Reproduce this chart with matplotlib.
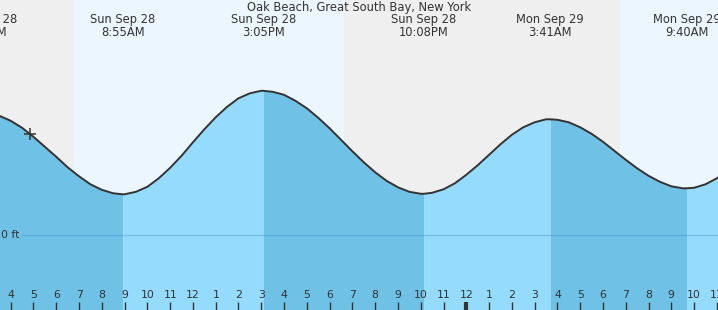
# tide chart - Oak Beach, Great South Bay
import matplotlib.pyplot as plt
from matplotlib import transforms

plt.rcParams['font.family'] = 'DejaVu Sans'

# hours from Sun Sep 28 00:00, water level in ft
times = [3.0, 3.5, 4.0, 4.5, 5.0, 5.5, 6.0, 6.5, 7.0, 7.5, 8.0, 8.5, 8.917,
         9.0, 9.5, 10.0, 10.5, 11.0, 11.5, 12.0, 12.5, 13.0, 13.5, 14.0, 14.5, 15.0, 15.083,
         15.5, 16.0, 16.5, 17.0, 17.5, 18.0, 18.5, 19.0, 19.5, 20.0, 20.5, 21.0, 21.5, 22.0, 22.133,
         22.5, 23.0, 23.5, 24.0, 24.5, 25.0, 25.5, 26.0, 26.5, 27.0, 27.5, 27.683,
         28.0, 28.5, 29.0, 29.5, 30.0, 30.5, 31.0, 31.5, 32.0, 32.5, 33.0, 33.5, 33.667,
         34.0, 34.5, 35.0, 35.5]
heights = [2.44, 2.39, 2.29, 2.15, 1.97, 1.77, 1.57, 1.36, 1.18, 1.02, 0.91, 0.84, 0.82,
           0.82, 0.87, 0.97, 1.14, 1.35, 1.59, 1.86, 2.12, 2.36, 2.57, 2.74, 2.84, 2.89, 2.89,
           2.87, 2.81, 2.69, 2.54, 2.35, 2.14, 1.91, 1.68, 1.46, 1.26, 1.09, 0.96, 0.87, 0.83, 0.83,
           0.85, 0.92, 1.04, 1.21, 1.40, 1.61, 1.82, 2.01, 2.16, 2.26, 2.32, 2.32,
           2.31, 2.26, 2.16, 2.03, 1.87, 1.69, 1.51, 1.34, 1.19, 1.07, 0.98, 0.94, 0.94,
           0.95, 1.02, 1.14, 1.30]

# high / low events
event_times = [2.85, 8.917, 15.083, 22.133, 27.683, 33.667]
event_days = ['Sun Sep 28', 'Sun Sep 28', 'Sun Sep 28', 'Sun Sep 28', 'Mon Sep 29', 'Mon Sep 29']
event_clock = ['2:51AM', '8:55AM', '3:05PM', '10:08PM', '3:41AM', '9:40AM']

# daylight
sunrise = [6.78, 30.75]
sunset = [18.63]

now_time = 4.85
now_height = 2.03

hours = list(range(4, 36))

x0, x1 = 3.53, 35.05
y0, y1 = -1.494, 4.706

fig = plt.figure(figsize=(7.18, 3.10), dpi=100)
ax = fig.add_axes([0, 0, 1, 1])
ax.set_xlim(x0, x1)
ax.set_ylim(y0, y1)
ax.axis('off')

night = '#efefef'
day = '#ebf6fe'
ax.axvspan(x0 - 1, sunrise[0], color=night, lw=0)
ax.axvspan(sunrise[0], sunset[0], color=day, lw=0)
ax.axvspan(sunset[0], sunrise[1], color=night, lw=0)
ax.axvspan(sunrise[1], x1 + 1, color=day, lw=0)

# fill, darker while falling, lighter while rising
ext_idx = [0] + [times.index(t) for t in event_times[1:]] + [len(times) - 1]
for a, b in zip(ext_idx[:-1], ext_idx[1:]):
    col = '#70c1e6' if heights[b] < heights[a] else '#95dbfd'
    ax.fill_between(times[a:b + 1], heights[a:b + 1], y0, color=col, lw=0)

ax.plot(times, heights, color='#333333', lw=1.4, solid_joinstyle='round')
ax.plot([now_time], [now_height], marker='+', color='#333333', ms=8, mew=1.1)

# zero line
ax.axhline(0, xmin=22 / 718, color='#2f7fb5', alpha=0.3, lw=1)
ax.text(x0 + 19 / 22.78, 0, '0 ft', ha='right', va='center', fontsize=7.8, color='#333333')

# header
trans = transforms.blended_transform_factory(ax.transData, ax.transAxes)
ax.text((x0 + x1) / 2, 1 - 8 / 310, 'Oak Beach, Great South Bay, New York',
        ha='center', va='center', fontsize=8.3, color='#333333', transform=trans)
for t, d, c in zip(event_times, event_days, event_clock):
    ax.text(t, 1 - 20 / 310, d, ha='center', va='center', fontsize=8.3,
            color='#333333', transform=trans)
    ax.text(t, 1 - 32 / 310, c, ha='center', va='center', fontsize=8.3,
            color='#333333', transform=trans)

# hour ticks
for h in hours:
    lab = str((h - 1) % 12 + 1)
    ax.text(h, 15 / 310, lab, ha='center', va='center', fontsize=7.8,
            color='#333333', transform=trans)
    ax.plot([h, h], [0, 8 / 310], color='#333333', lw=3 if h % 24 == 0 else 1,
            transform=trans, solid_capstyle='butt')

plt.savefig('out.png', dpi=100)
